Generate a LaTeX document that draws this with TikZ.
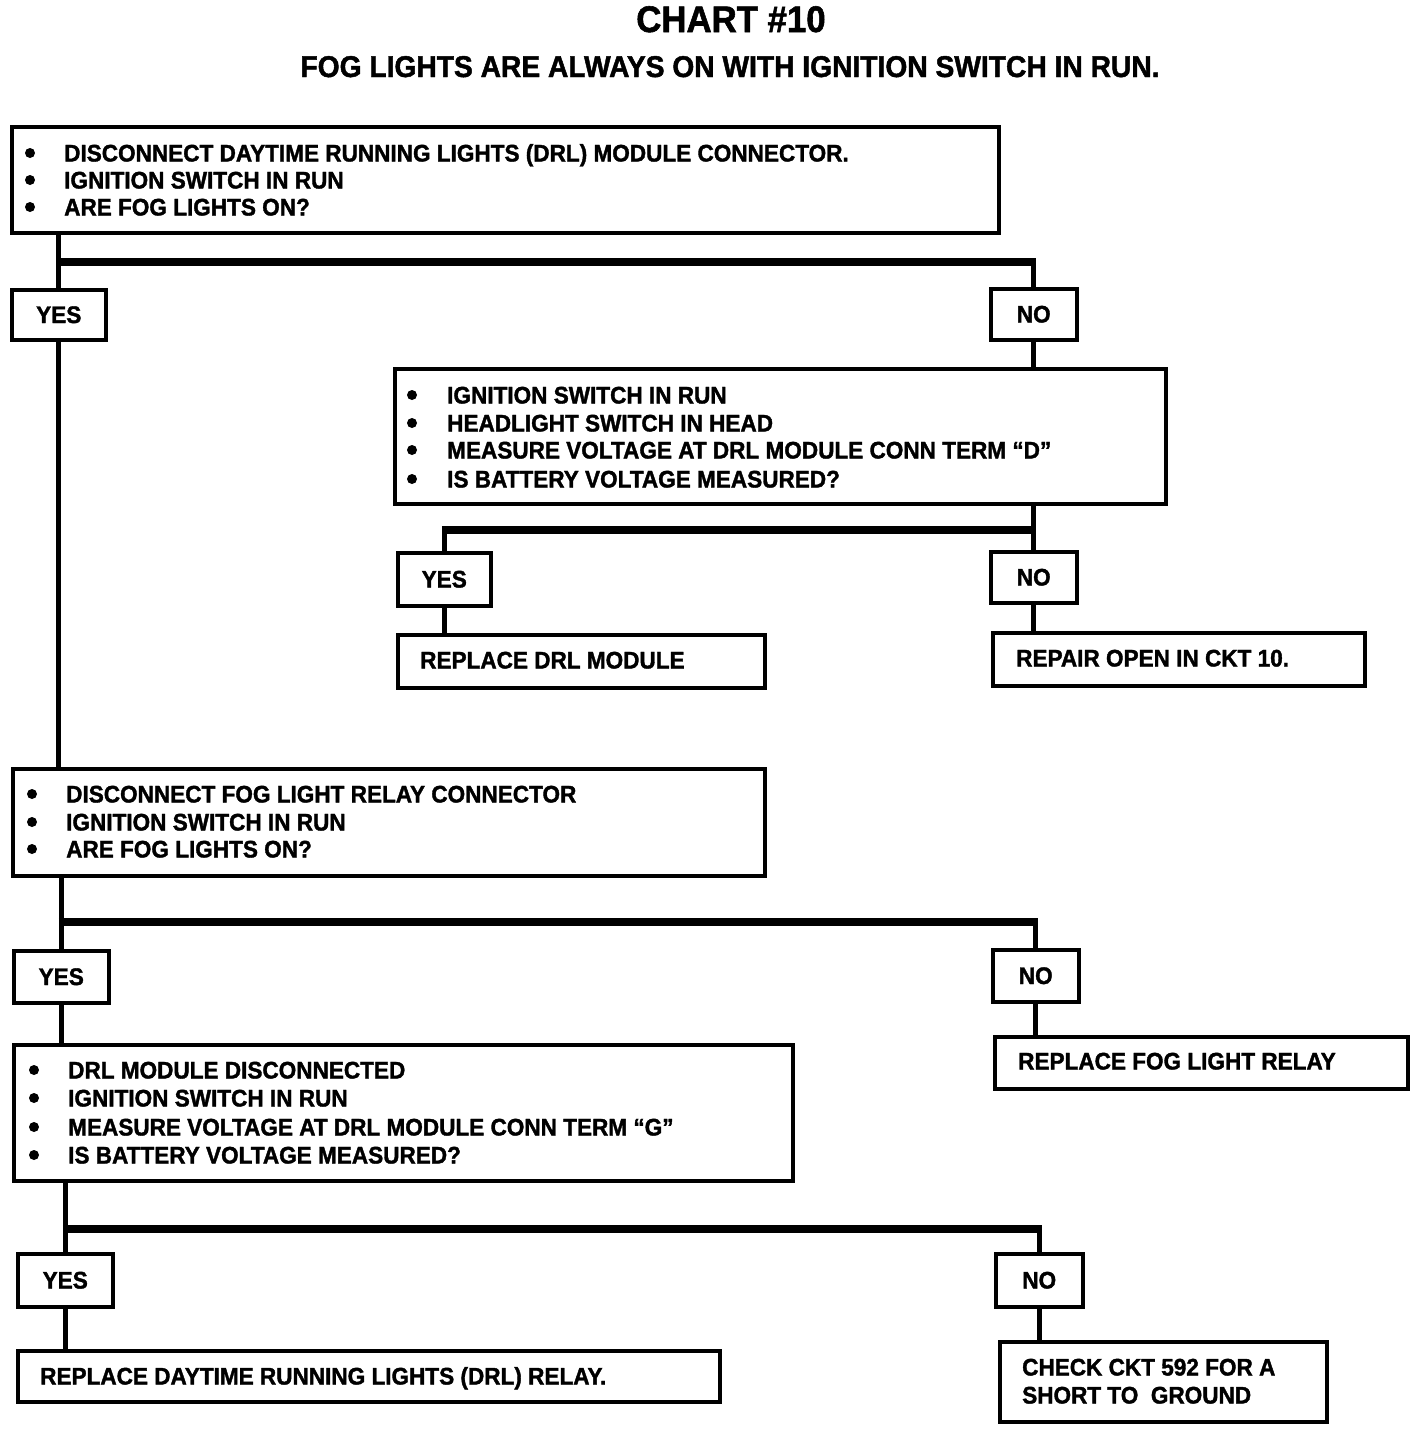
\documentclass[tikz,border=0pt]{standalone}
\usepackage{fontspec}
\setmainfont{Liberation Sans}[FakeStretch=0.94,FakeBold=1.5]
\newcommand{\lf}{\bfseries\fontsize{24}{28}\selectfont}
\newcommand{\titlef}{\bfseries\fontsize{37}{40}\selectfont}
\newcommand{\subf}{\bfseries\fontsize{30}{34}\selectfont}
\newcommand{\bitem}[5]{%
  \fill (#2,#4) circle (5);
  \node[txt] (#1) at (#3,#4+8.5) {#5};}
\begin{document}
\begin{tikzpicture}[x=1pt,y=-1pt,
  box/.style={draw=black,line width=3.5pt,inner sep=0pt,anchor=north west,font=\lf},
  txt/.style={inner sep=0pt,anchor=base west,font=\lf},
  conn/.style={line width=5pt},
  bar/.style={line width=8pt,shorten <=-2.5pt,shorten >=-2.5pt}]
\useasboundingbox (0,0) rectangle (1424,1430);
\fill[white] (0,0) rectangle (1424,1430);

% titles
\node[inner sep=0pt,anchor=base,font=\titlef] (title) at (731,32) {CHART \#10};
\node[inner sep=0pt,anchor=base,font=\subf] (sub) at (730,77) {FOG LIGHTS ARE ALWAYS ON WITH IGNITION SWITCH IN RUN.};

% boxes
\node[box,minimum width=987,minimum height=106] (b1) at (10,125) {};
\node[box,minimum width=94,minimum height=50] (y1) at (10,288) {YES};
\node[box,minimum width=86,minimum height=51] (n1) at (989,287) {NO};
\node[box,minimum width=771,minimum height=135] (b2) at (393,367) {};
\node[box,minimum width=93,minimum height=53] (y2) at (396,551) {YES};
\node[box,minimum width=86,minimum height=51] (n2) at (989,550) {NO};
\node[box,minimum width=367,minimum height=53] (r1) at (396,633) {};
\node[box,minimum width=372,minimum height=53] (r2) at (991,631) {};
\node[box,minimum width=752,minimum height=107] (b3) at (11,767) {};
\node[box,minimum width=95,minimum height=52] (y3) at (12,949) {YES};
\node[box,minimum width=86,minimum height=52] (n3) at (991,948) {NO};
\node[box,minimum width=413,minimum height=52] (r3) at (993,1035) {};
\node[box,minimum width=779,minimum height=136] (b4) at (12,1043) {};
\node[box,minimum width=95,minimum height=53] (y4) at (16,1252) {YES};
\node[box,minimum width=87,minimum height=53] (n4) at (994,1252) {NO};
\node[box,minimum width=702,minimum height=51] (r4) at (16,1349) {};
\node[box,minimum width=327,minimum height=80] (r5) at (998,1340) {};

% box texts
\bitem{t1a}{30}{64}{153}{DISCONNECT DAYTIME RUNNING LIGHTS (DRL) MODULE CONNECTOR.}
\bitem{t1b}{30}{64}{180}{IGNITION SWITCH IN RUN}
\bitem{t1c}{30}{64}{207}{ARE FOG LIGHTS ON?}

\bitem{t2a}{412}{447}{395}{IGNITION SWITCH IN RUN}
\bitem{t2b}{412}{447}{423}{HEADLIGHT SWITCH IN HEAD}
\bitem{t2c}{412}{447}{450}{MEASURE VOLTAGE AT DRL MODULE CONN TERM “D”}
\bitem{t2d}{412}{447}{479}{IS BATTERY VOLTAGE MEASURED?}

\node[txt] (tr1) at (420,668.5) {REPLACE DRL MODULE};
\node[txt] (tr2) at (1016,666.5) {REPAIR OPEN IN CKT 10.};

\bitem{t3a}{32}{66}{794}{DISCONNECT FOG LIGHT RELAY CONNECTOR}
\bitem{t3b}{32}{66}{822}{IGNITION SWITCH IN RUN}
\bitem{t3c}{32}{66}{849}{ARE FOG LIGHTS ON?}

\node[txt] (tr3) at (1018,1069.5) {REPLACE FOG LIGHT RELAY};

\bitem{t4a}{34}{68}{1070}{DRL MODULE DISCONNECTED}
\bitem{t4b}{34}{68}{1098}{IGNITION SWITCH IN RUN}
\bitem{t4c}{34}{68}{1127}{MEASURE VOLTAGE AT DRL MODULE CONN TERM “G”}
\bitem{t4d}{34}{68}{1155}{IS BATTERY VOLTAGE MEASURED?}

\node[txt] (tr4) at (40,1384.5) {REPLACE DAYTIME RUNNING LIGHTS (DRL) RELAY.};
\node[txt] (tr5a) at (1022,1375.5) {CHECK CKT 592 FOR A};
\node[txt] (tr5b) at (1022,1403.5) {SHORT TO\ \ GROUND};

% connectors
\coordinate (h1) at (0,262);
\coordinate (h2) at (0,530);
\coordinate (h3) at (0,922);
\coordinate (h4) at (0,1229);

\draw[conn] (b1.south -| y1.north) -- (y1.north);
\draw[bar] (y1.north |- h1) -- (n1.north |- h1);
\draw[conn] (n1.north |- h1) -- (n1.north);
\draw[conn] (y1.south) -- (b3.north -| y1.south);
\draw[conn] (n1.south) -- (b2.north -| n1.south);

\draw[conn] (b2.south -| n2.north) -- (n2.north);
\draw[bar] (y2.north |- h2) -- (n2.north |- h2);
\draw[conn] (y2.north |- h2) -- (y2.north);
\draw[conn] (y2.south) -- (r1.north -| y2.south);
\draw[conn] (n2.south) -- (r2.north -| n2.south);

\draw[conn] (b3.south -| y3.north) -- (y3.north);
\draw[bar] (y3.north |- h3) -- (n3.north |- h3);
\draw[conn] (n3.north |- h3) -- (n3.north);
\draw[conn] (y3.south) -- (b4.north -| y3.south);
\draw[conn] (n3.south) -- (r3.north -| n3.south);

\draw[conn] (b4.south -| y4.north) -- (y4.north);
\draw[bar] (y4.north |- h4) -- (n4.north |- h4);
\draw[conn] (n4.north |- h4) -- (n4.north);
\draw[conn] (y4.south) -- (r4.north -| y4.south);
\draw[conn] (n4.south) -- (r5.north -| n4.south);
\end{tikzpicture}
\end{document}
